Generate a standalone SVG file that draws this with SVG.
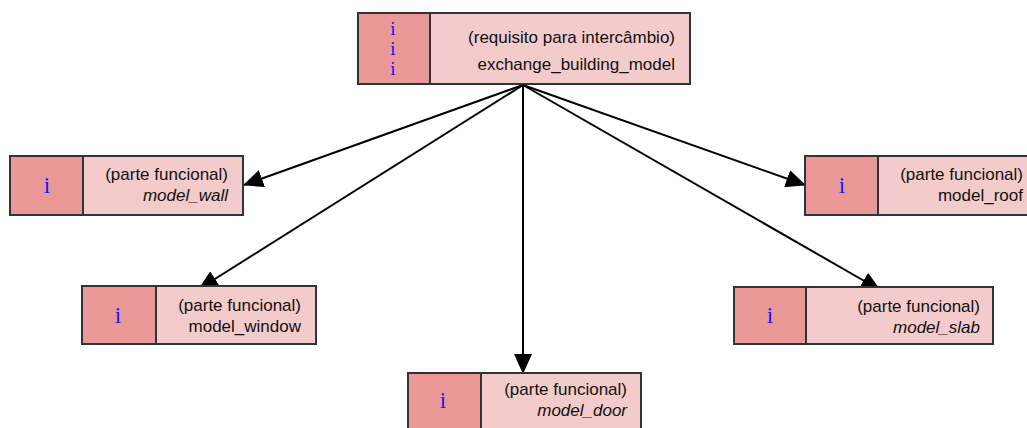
<svg xmlns="http://www.w3.org/2000/svg" width="1027" height="428" viewBox="0 0 1027 428">
  <style>
    .key { fill: #E99797; stroke: #2f3535; stroke-width: 2; }
    .body { fill: #F4CBCB; stroke: #2f3535; stroke-width: 2; }
    .lbl { font-family: "Liberation Sans", Arial, sans-serif; font-size: 17px; fill: #111; text-anchor: end; }
    .it { font-style: italic; }
    .ico { font-family: "Liberation Serif", "Times New Roman", serif; font-size: 23px; fill: #1414ff; text-anchor: middle; }
    .ico-s { font-size: 19px; }
    .edge { stroke: #000; stroke-width: 2; fill: none; marker-end: url(#arrow); }
  </style>
  <defs>
    <marker id="arrow" markerUnits="userSpaceOnUse" viewBox="0 0 20 18" refX="19" refY="9" markerWidth="20" markerHeight="18" orient="auto">
      <path d="M0,0 L20,9 L0,18 z" fill="#000"/>
    </marker>
  </defs>
  <rect width="1027" height="428" fill="#fff"/>

  <!-- connectors (drawn first so node boxes sit on top) -->
  <g id="connectors">
    <line class="edge" x1="523" y1="85" x2="244" y2="185"/>
    <line class="edge" x1="523" y1="85" x2="805" y2="185"/>
    <line class="edge" x1="523" y1="85" x2="199" y2="289"/>
    <line class="edge" x1="523" y1="85" x2="880" y2="290"/>
    <line class="edge" x1="523" y1="85" x2="523" y2="373"/>
  </g>

  <g id="exchange_building_model">
    <rect class="key" x="358" y="13" width="72" height="71"/>
    <rect class="body" x="430" y="13" width="260" height="71"/>
    <text class="ico ico-s" x="393" y="35">i</text>
    <text class="ico ico-s" x="393" y="55">i</text>
    <text class="ico ico-s" x="393" y="75">i</text>
    <text class="lbl" x="675" y="43">(requisito para intercâmbio)</text>
    <text class="lbl" x="675" y="70">exchange_building_model</text>
  </g>

  <g id="model_wall">
    <rect class="key" x="10" y="156" width="73" height="59"/>
    <rect class="body" x="83" y="156" width="160" height="59"/>
    <text class="ico" x="47" y="193">i</text>
    <text class="lbl" x="228" y="180">(parte funcional)</text>
    <text class="lbl it" x="228" y="201">model_wall</text>
  </g>

  <g id="model_roof">
    <rect class="key" x="805" y="156" width="73" height="59"/>
    <rect class="body" x="878" y="156" width="160" height="59"/>
    <text class="ico" x="842" y="193">i</text>
    <text class="lbl" x="1023" y="180">(parte funcional)</text>
    <text class="lbl" x="1023" y="201">model_roof</text>
  </g>

  <g id="model_window">
    <rect class="key" x="82" y="286" width="74" height="58"/>
    <rect class="body" x="156" y="286" width="160" height="58"/>
    <text class="ico" x="118" y="323">i</text>
    <text class="lbl" x="301" y="311">(parte funcional)</text>
    <text class="lbl" x="301" y="332">model_window</text>
  </g>

  <g id="model_slab">
    <rect class="key" x="734" y="287" width="72" height="57"/>
    <rect class="body" x="806" y="287" width="187" height="57"/>
    <text class="ico" x="770" y="323">i</text>
    <text class="lbl" x="980" y="312">(parte funcional)</text>
    <text class="lbl it" x="980" y="333">model_slab</text>
  </g>

  <g id="model_door">
    <rect class="key" x="408" y="373" width="73" height="70"/>
    <rect class="body" x="481" y="373" width="160" height="70"/>
    <text class="ico" x="443" y="408">i</text>
    <text class="lbl" x="627" y="395">(parte funcional)</text>
    <text class="lbl it" x="627" y="416">model_door</text>
  </g>
</svg>
